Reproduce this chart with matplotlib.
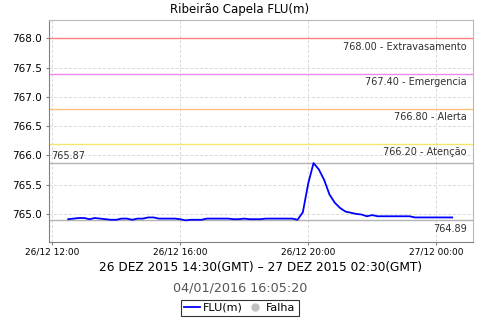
import matplotlib
matplotlib.use('Agg')
import matplotlib.pyplot as plt
import matplotlib.dates as mdates
import matplotlib.lines as mlines
import pandas as pd

# 10 minute readings, local time
times = pd.date_range('2015-12-26 12:30', periods=73, freq='10min')
flu = [764.91, 764.92, 764.93, 764.93, 764.91, 764.93, 764.92, 764.91, 764.90, 764.90,
       764.92, 764.92, 764.90, 764.92, 764.92, 764.94, 764.94, 764.92, 764.92, 764.92,
       764.92, 764.91, 764.89, 764.90, 764.90, 764.90, 764.92, 764.92, 764.92, 764.92,
       764.92, 764.91, 764.91, 764.92, 764.91, 764.91, 764.91, 764.92, 764.92, 764.92,
       764.92, 764.92, 764.92, 764.90, 765.03, 765.52, 765.87, 765.76, 765.58, 765.33,
       765.19, 765.10, 765.04, 765.02, 765.00, 764.99, 764.96, 764.98, 764.96, 764.96,
       764.96, 764.96, 764.96, 764.96, 764.96, 764.94, 764.94, 764.94, 764.94, 764.94,
       764.94, 764.94, 764.94]

levels = [768.00, 767.40, 766.80, 766.20]
level_names = ['Extravasamento', 'Emergencia', 'Alerta', 'Atenção']
level_colors = ['#ff7f7f', '#ee88ee', '#ffc37f', '#f5e66e']

fig = plt.figure(figsize=(4.8, 3.2), dpi=100)
ax = fig.add_axes([49/480, 1-242/320, (473-49)/480, (242-20)/320])

ax.grid(True, color='#d8d8d8', linestyle=(0, (3, 2)), linewidth=0.7)
ax.set_axisbelow(True)

for v, name, c in zip(levels, level_names, level_colors):
    ax.axhline(v, color=c, linewidth=1)
    ax.text(0.985, v - 0.055, '%.2f - %s' % (v, name), transform=ax.get_yaxis_transform(),
            ha='right', va='top', fontsize=7, color='#303030')

vmax = max(flu)
vmin = min(flu)
ax.axhline(vmax, color='#b4b4b4', linewidth=1)
ax.axhline(vmin, color='#b4b4b4', linewidth=1)
ax.text(0.005, vmax + 0.04, '%.2f' % vmax, transform=ax.get_yaxis_transform(),
        ha='left', va='bottom', fontsize=7, color='#303030')
ax.text(0.985, vmin - 0.07, '%.2f' % vmin, transform=ax.get_yaxis_transform(),
        ha='right', va='top', fontsize=7, color='#303030')

ax.plot(times, flu, color='#0000ff', linewidth=1.3)

ax.set_ylim(764.52, 768.316)
ax.set_xlim(pd.Timestamp('2015-12-26 11:54'), pd.Timestamp('2015-12-27 01:09'))
ax.set_yticks([765.0, 765.5, 766.0, 766.5, 767.0, 767.5, 768.0])
ax.yaxis.set_major_formatter(matplotlib.ticker.FormatStrFormatter('%.1f'))
ax.xaxis.set_major_locator(mdates.HourLocator(byhour=[0, 4, 8, 12, 16, 20]))
ax.xaxis.set_major_formatter(mdates.DateFormatter('%d/%m %H:%M'))
ax.tick_params(axis='y', labelsize=7.5, length=2, color='#808080', pad=3)
ax.tick_params(axis='x', labelsize=6.5, length=2, color='#808080', pad=2)

for s in ['left', 'bottom']:
    ax.spines[s].set_color('#808080')
for s in ['top', 'right']:
    ax.spines[s].set_color('#b8b8b8')

fig.text(0.5, 1-10/320, 'Ribeirão Capela FLU(m)', ha='center', va='center', fontsize=8.5)
fig.text(261/480, 1-268/320, '26 DEZ 2015 14:30(GMT) – 27 DEZ 2015 02:30(GMT)',
         ha='center', va='center', fontsize=8.7)
fig.text(0.5, 1-288/320, '04/01/2016 16:05:20', ha='center', va='center',
         fontsize=9.2, color='#555555')

handles = [mlines.Line2D([], [], color='#0000ff', linewidth=1.3, label='FLU(m)'),
           mlines.Line2D([], [], color='#c0c0c0', marker='o', linestyle='None',
                         markersize=5, label='Falha')]
leg = fig.legend(handles=handles, loc='center', bbox_to_anchor=(0.5, 1-308/320), ncol=2,
                 fontsize=8, frameon=True, fancybox=False, handlelength=1.4,
                 handletextpad=0.3, columnspacing=0.4, borderpad=0.25, borderaxespad=0)
leg.get_frame().set_edgecolor('black')
leg.get_frame().set_linewidth(0.8)

plt.savefig('out.png', dpi=100)
